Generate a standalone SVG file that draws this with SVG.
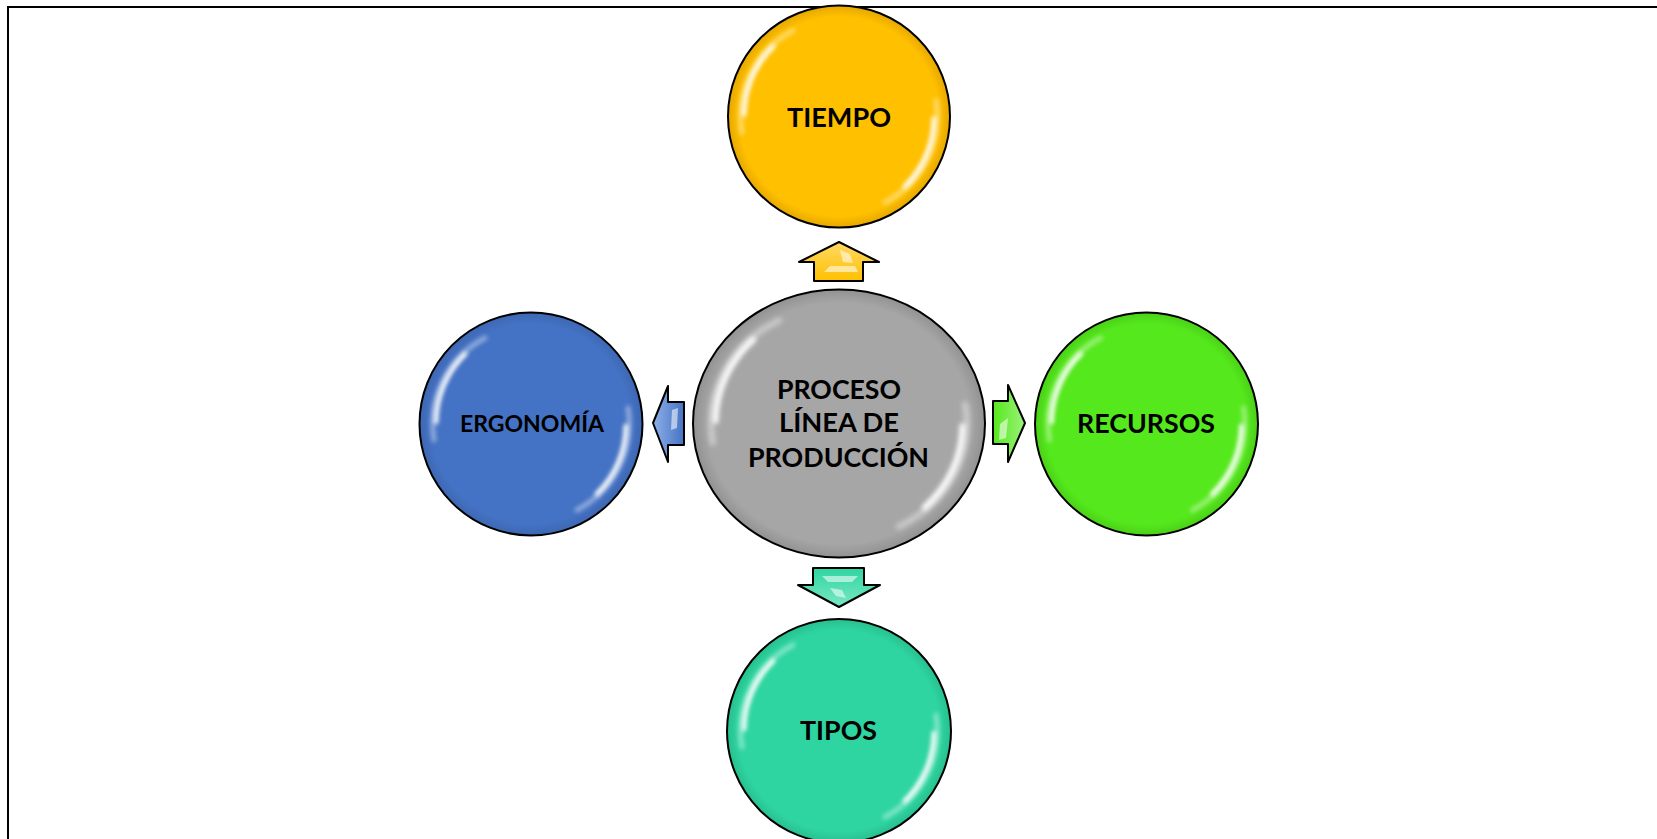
<svg xmlns="http://www.w3.org/2000/svg" width="1657" height="839" viewBox="0 0 1657 839">
  <style>
    .lbl { font-family: Lato, "Open Sans", "Liberation Sans", sans-serif; font-weight: bold; fill: #000; text-anchor: middle; }
    .ring { stroke: #000; stroke-width: 2; }
    .arrow { stroke: #000; stroke-width: 2; stroke-linejoin: round; }
    .hl { fill: none; stroke: #fff; stroke-linecap: round; filter: url(#blur); }
    .facet { fill: #fff; opacity: 0.55; }
  </style>
  <defs>
    <filter id="blur" x="-20%" y="-20%" width="140%" height="140%">
      <feGaussianBlur stdDeviation="2"/>
    </filter>
    <radialGradient id="gY" cx="50%" cy="50%" r="50%"><stop offset="0.9" stop-color="#FFC000"/><stop offset="1" stop-color="#E6A800"/></radialGradient>
    <radialGradient id="gB" cx="50%" cy="50%" r="50%"><stop offset="0.9" stop-color="#4472C4"/><stop offset="1" stop-color="#3D67B2"/></radialGradient>
    <radialGradient id="gG" cx="50%" cy="50%" r="50%"><stop offset="0.9" stop-color="#55E81C"/><stop offset="1" stop-color="#4BD018"/></radialGradient>
    <radialGradient id="gT" cx="50%" cy="50%" r="50%"><stop offset="0.9" stop-color="#2ED5A0"/><stop offset="1" stop-color="#28BF8F"/></radialGradient>
    <radialGradient id="gC" cx="50%" cy="50%" r="50%"><stop offset="0.9" stop-color="#A6A6A6"/><stop offset="1" stop-color="#929292"/></radialGradient>
    <linearGradient id="aY" x1="0" y1="0" x2="0" y2="1"><stop offset="0" stop-color="#FFD966"/><stop offset="1" stop-color="#FFC000"/></linearGradient>
    <linearGradient id="aT" x1="0" y1="0" x2="0" y2="1"><stop offset="0" stop-color="#2ED5A0"/><stop offset="1" stop-color="#7BE8C4"/></linearGradient>
    <linearGradient id="aB" x1="0" y1="0" x2="1" y2="0"><stop offset="0" stop-color="#8FB0E8"/><stop offset="1" stop-color="#4472C4"/></linearGradient>
    <linearGradient id="aG" x1="0" y1="0" x2="1" y2="0"><stop offset="0" stop-color="#55E81C"/><stop offset="1" stop-color="#9CF27A"/></linearGradient>
    <g id="gloss">
      <path class="hl" d="M -97 16 A 98 98 0 0 1 -46 -86" stroke-width="5" opacity="0.4"/>
      <path class="hl" d="M -95 -2 A 96 96 0 0 1 -66 -70" stroke-width="4.5"/>
      <path class="hl" d="M 97 -16 A 98 98 0 0 1 46 86" stroke-width="5" opacity="0.4"/>
      <path class="hl" d="M 95 2 A 96 96 0 0 1 66 70" stroke-width="4.5"/>
    </g>
  </defs>

  <rect x="8" y="7" width="1700" height="900" fill="#fff" stroke="#000" stroke-width="2"/>

  <g id="connectors">
    <g id="arrow-up">
      <polygon class="arrow" fill="url(#aY)" points="839,242 879,262 863,262 863,281 814,281 814,262 799,262"/>
      <polygon class="facet" points="840,250 850,254 853,263 843,262"/>
      <polygon class="facet" opacity="0.35" points="824,272 858,272 855,266 830,266"/>
    </g>
    <g id="arrow-down">
      <polygon class="arrow" fill="url(#aT)" points="813,568 864,568 864,585 880,585 839,607 798,585 813,585"/>
      <polygon class="facet" points="830,588 842,590 846,598 836,596"/>
      <polygon class="facet" opacity="0.35" points="822,576 858,576 852,582 828,582"/>
    </g>
    <g id="arrow-left">
      <polygon class="arrow" fill="url(#aB)" points="653,423 668,386 668,402 684,402 684,445 668,445 668,462"/>
      <polygon class="facet" points="672,410 678,408 677,428 671,430"/>
    </g>
    <g id="arrow-right">
      <polygon class="arrow" fill="url(#aG)" points="993,401 1008,401 1008,385 1025,423 1008,462 1008,444 993,444"/>
      <polygon class="facet" points="1000,424 1008,418 1006,438 999,440"/>
    </g>
  </g>

  <g id="node-tiempo">
    <circle class="ring" cx="839" cy="116.5" r="111" fill="url(#gY)"/>
    <use href="#gloss" transform="translate(839,116.5)"/>
    <text class="lbl" x="839" y="127" font-size="27" textLength="104" lengthAdjust="spacingAndGlyphs">TIEMPO</text>
  </g>

  <g id="node-centro">
    <ellipse class="ring" cx="839" cy="423.5" rx="146" ry="134" fill="url(#gC)"/>
    <use href="#gloss" transform="translate(839,423.5) scale(1.3,1.2)"/>
    <text class="lbl" x="839" y="399" font-size="27" textLength="124" lengthAdjust="spacingAndGlyphs">PROCESO</text>
    <text class="lbl" x="839" y="432" font-size="27" textLength="120" lengthAdjust="spacingAndGlyphs">LÍNEA DE</text>
    <text class="lbl" x="838.5" y="467" font-size="27" textLength="181" lengthAdjust="spacingAndGlyphs">PRODUCCIÓN</text>
  </g>

  <g id="node-ergonomia">
    <circle class="ring" cx="531" cy="424" r="111.5" fill="url(#gB)"/>
    <use href="#gloss" transform="translate(531,424)"/>
    <text class="lbl" x="532" y="432" font-size="23.5" textLength="144" lengthAdjust="spacingAndGlyphs">ERGONOMÍA</text>
  </g>

  <g id="node-recursos">
    <circle class="ring" cx="1146.5" cy="424" r="111.5" fill="url(#gG)"/>
    <use href="#gloss" transform="translate(1146.5,424)"/>
    <text class="lbl" x="1146" y="433" font-size="26" textLength="138" lengthAdjust="spacingAndGlyphs">RECURSOS</text>
  </g>

  <g id="node-tipos">
    <circle class="ring" cx="839" cy="731" r="112" fill="url(#gT)"/>
    <use href="#gloss" transform="translate(839,731)"/>
    <text class="lbl" x="838.5" y="740" font-size="27" textLength="77" lengthAdjust="spacingAndGlyphs">TIPOS</text>
  </g>
</svg>
